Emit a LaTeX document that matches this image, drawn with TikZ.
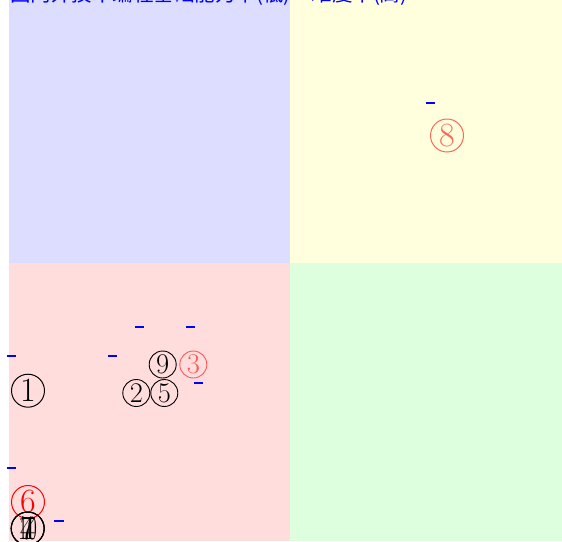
\documentclass[tikz,border=0pt]{standalone}
\usepackage{fontspec}
\newfontfamily\cjk{Noto Sans CJK SC}
\usepackage{graphicx}
\definecolor{qblue}{HTML}{DDDDFF}
\definecolor{qyellow}{HTML}{FFFFDD}
\definecolor{qpink}{HTML}{FFDDDD}
\definecolor{qgreen}{HTML}{DDFFDD}
\begin{document}
\begin{tikzpicture}[x=1pt,y=-1pt,
  cbig/.style={circle,draw,inner sep=0pt,minimum size=33pt,line width=1pt,font=\fontsize{34}{34}\selectfont},
  csmall/.style={circle,draw,inner sep=0pt,minimum size=27pt,line width=0.9pt,font=\fontsize{28.5}{28.5}\selectfont},
  faded/.style={draw=red,text=red,draw opacity=0.6,text opacity=0.6},
  tick/.style={draw=blue,line width=1.3pt}]
\useasboundingbox (0,0) rectangle (562,541);
% quadrants
\fill[qblue] (9,0) rectangle (290,263);
\fill[qyellow] (290,0) rectangle (562,263);
\fill[qpink] (9,263) rectangle (290,541);
\fill[qgreen] (290,263) rectangle (562,541);
% title (clipped at top)
\node[anchor=base west,inner sep=0pt,text=blue,font=\cjk\fontsize{20.5}{20.5}\selectfont] (title) at (10,1) {国内外技术编程基础能力中(低)\hspace{21pt}难度中(高)};
% blue ticks
\draw[tick] (7,356) -- (16,356);
\draw[tick] (108,356) -- (117,356);
\draw[tick] (135,327) -- (144,327);
\draw[tick] (186,327) -- (195,327);
\draw[tick] (194,383) -- (203,383);
\draw[tick] (7,468) -- (16,468);
\draw[tick] (54,521) -- (64,521);
\draw[tick] (426,103) -- (435,103);
% circled numbers
\node[cbig] (n1) at (28,390.7) {1};
\node[csmall] (n2) at (136.3,393) {2};
\node[csmall,faded] (n3) at (193.3,364.5) {3};
\node[cbig] (n4) at (27.7,528.5) {4};
\node[csmall] (n5) at (164.3,393) {5};
\node[cbig,draw=red,text=red] (n6) at (28,502) {6};
\node[cbig] (n7) at (27.7,528.5) {7};
\node[cbig,faded] (n8) at (447,135.5) {8};
\node[csmall] (n9) at (162.7,364.5) {9};
\node[cbig] (n10) at (27.7,528.5) {\scalebox{0.6}[1]{10}};
\end{tikzpicture}
\end{document}
